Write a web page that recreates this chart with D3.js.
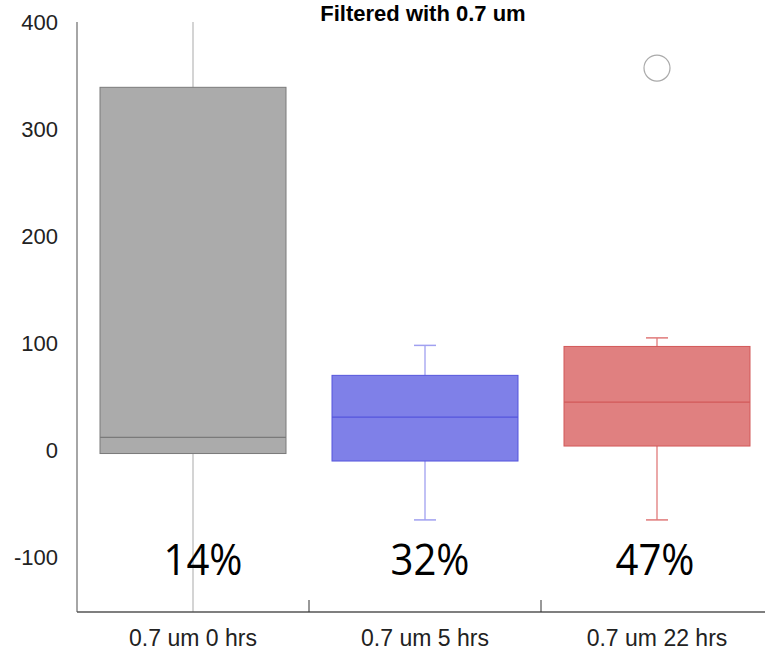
<!DOCTYPE html>
<html>
<head>
<meta charset="utf-8">
<script src="https://cdn.jsdelivr.net/npm/d3@7"></script>
<style>
  body { margin: 0; background: #fff; }
  svg { display: block; font-family: "Liberation Sans", Arial, sans-serif; }
</style>
</head>
<body>
<svg id="chart" width="765" height="651"></svg>
<script>
// categories and box statistics
const categories = ["0.7 um 0 hrs", "0.7 um 5 hrs", "0.7 um 22 hrs"];
const q1Values = [-3, -10, 4];
const medianValues = [12, 31, 45];
const q3Values = [339, 70, 97];
const whiskerLow = [-170, -65, -65];
const whiskerHigh = [420, 98, 105];
const outliers = [[], [], [357]];
const percentLabels = ["14%", "32%", "47%"];
const yTicks = [-100, 0, 100, 200, 300, 400];

const fills = ["#ababab", "#7f80e8", "#e08080"];
const strokes = ["#7a7a7a", "#5555dd", "#d25858"];
const whiskerColors = ["#bdbdbd", "#a0a0f0", "#e07a7a"];

const svg = d3.select("#chart");
const plotLeft = 77, plotRight = 773, plotTop = 22, plotBottom = 612;

const x = d3.scaleBand().domain(categories).range([plotLeft, plotRight]).padding(0);
const y = d3.scaleLinear().domain([-151, 400]).range([plotBottom, plotTop]);
const boxW = 186;

svg.append("defs").append("clipPath").attr("id", "plotclip")
  .append("rect").attr("x", plotLeft).attr("y", plotTop)
  .attr("width", plotRight - plotLeft).attr("height", plotBottom - plotTop);

const plot = svg.append("g").attr("clip-path", "url(#plotclip)");

categories.forEach((c, i) => {
  const cx = x(c) + x.bandwidth() / 2;
  const g = plot.append("g");
  // whiskers
  g.append("line").attr("x1", cx).attr("x2", cx)
    .attr("y1", y(q3Values[i])).attr("y2", y(whiskerHigh[i]))
    .attr("stroke", whiskerColors[i]).attr("stroke-width", 1.3);
  g.append("line").attr("x1", cx).attr("x2", cx)
    .attr("y1", y(q1Values[i])).attr("y2", y(whiskerLow[i]))
    .attr("stroke", whiskerColors[i]).attr("stroke-width", 1.3);
  // caps
  [whiskerHigh[i], whiskerLow[i]].forEach(v => {
    g.append("line").attr("x1", cx - 11).attr("x2", cx + 11)
      .attr("y1", y(v)).attr("y2", y(v))
      .attr("stroke", whiskerColors[i]).attr("stroke-width", 1.5);
  });
  // box
  g.append("rect")
    .attr("x", cx - boxW / 2).attr("width", boxW)
    .attr("y", y(q3Values[i])).attr("height", y(q1Values[i]) - y(q3Values[i]))
    .attr("fill", fills[i]).attr("stroke", strokes[i]).attr("stroke-width", 1);
  g.append("line").attr("x1", cx - boxW / 2).attr("x2", cx + boxW / 2)
    .attr("y1", y(medianValues[i])).attr("y2", y(medianValues[i]))
    .attr("stroke", strokes[i]).attr("stroke-width", 1.3);
  outliers[i].forEach(v => {
    g.append("circle").attr("cx", cx).attr("cy", y(v)).attr("r", 13)
      .attr("fill", "none").attr("stroke", "#aaa").attr("stroke-width", 1.2);
  });
});

// percentage labels
categories.forEach((c, i) => {
  const cx = x(c) + x.bandwidth() / 2;
  svg.append("text")
    .attr("x", cx + [10, 5, -2][i]).attr("y", 575)
    .attr("text-anchor", "middle")
    .attr("font-family", "'Open Sans', 'Noto Sans', sans-serif")
    .attr("font-size", 44)
    .attr("textLength", 79).attr("lengthAdjust", "spacingAndGlyphs")
    .attr("fill", "#000")
    .text(percentLabels[i]);
});

// y axis (plain hyphen for negatives, like the original)
const yAxis = d3.axisLeft(y).tickValues(yTicks).tickSize(0).tickPadding(19)
  .tickFormat(d => String(d));
const ya = svg.append("g").attr("transform", `translate(${plotLeft},0)`).call(yAxis);
ya.select(".domain").attr("stroke", "#888").attr("stroke-width", 1.5).attr("d", `M0,${plotTop}V${plotBottom}`);
ya.selectAll("text").attr("font-size", 22).attr("fill", "#222");

// x axis
const xAxis = d3.axisBottom(x).tickSize(0).tickPadding(0);
const xa = svg.append("g").attr("transform", `translate(0,${plotBottom})`).call(xAxis);
xa.select(".domain").attr("stroke", "#555").attr("stroke-width", 1.5).attr("d", `M${plotLeft},0H765`);
xa.selectAll("text").attr("font-size", 23).attr("fill", "#222")
  .attr("dy", null).attr("y", 34);
// separator ticks between groups
categories.slice(1).forEach(c => {
  xa.append("line").attr("x1", x(c)).attr("x2", x(c)).attr("y1", 0).attr("y2", -12)
    .attr("stroke", "#333").attr("stroke-width", 1);
});

// title
svg.append("text").attr("x", 423).attr("y", 21).attr("text-anchor", "middle")
  .attr("font-size", 22).attr("font-weight", "bold").attr("fill", "#000")
  .text("Filtered with 0.7 um");
</script>
</body>
</html>
